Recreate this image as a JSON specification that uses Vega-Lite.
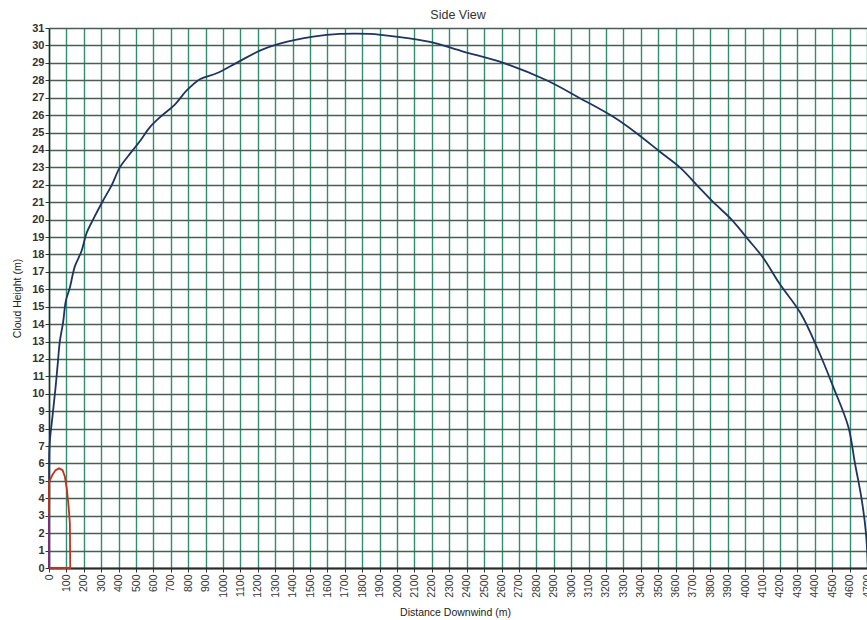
{
  "$schema": "https://vega.github.io/schema/vega-lite/v6.json",
  "autosize": {"type": "none"},
  "padding": {"left": 49, "top": 28, "right": 0, "bottom": 52},
  "width": 818,
  "height": 540,
  "background": "white",
  "title": {"text": "Side View", "offset": 1, "fontSize": 12.5, "font": "Liberation Sans", "fontWeight": "normal", "color": "#333333", "anchor": "middle"},
  "config": {"view": {"stroke": null}},
  "data": {"values": [
    {"series": "blue", "i": 0, "x": 0, "y": 0},
    {"series": "blue", "i": 1, "x": 1, "y": 4},
    {"series": "blue", "i": 2, "x": 3, "y": 7},
    {"series": "blue", "i": 3, "x": 20, "y": 8.7},
    {"series": "blue", "i": 4, "x": 38, "y": 10.4},
    {"series": "blue", "i": 5, "x": 50, "y": 11.7},
    {"series": "blue", "i": 6, "x": 62, "y": 13},
    {"series": "blue", "i": 7, "x": 81, "y": 14.1},
    {"series": "blue", "i": 8, "x": 97, "y": 15.35},
    {"series": "blue", "i": 9, "x": 120, "y": 16.1},
    {"series": "blue", "i": 10, "x": 148, "y": 17.3},
    {"series": "blue", "i": 11, "x": 187, "y": 18.2},
    {"series": "blue", "i": 12, "x": 215, "y": 19.2},
    {"series": "blue", "i": 13, "x": 253, "y": 20},
    {"series": "blue", "i": 14, "x": 311, "y": 21.1},
    {"series": "blue", "i": 15, "x": 359, "y": 21.95},
    {"series": "blue", "i": 16, "x": 407, "y": 23},
    {"series": "blue", "i": 17, "x": 455, "y": 23.65},
    {"series": "blue", "i": 18, "x": 522, "y": 24.5},
    {"series": "blue", "i": 19, "x": 579, "y": 25.3},
    {"series": "blue", "i": 20, "x": 646, "y": 25.95},
    {"series": "blue", "i": 21, "x": 723, "y": 26.6},
    {"series": "blue", "i": 22, "x": 790, "y": 27.4},
    {"series": "blue", "i": 23, "x": 867, "y": 28.06},
    {"series": "blue", "i": 24, "x": 963, "y": 28.4},
    {"series": "blue", "i": 25, "x": 1078, "y": 29.0},
    {"series": "blue", "i": 26, "x": 1211, "y": 29.7},
    {"series": "blue", "i": 27, "x": 1326, "y": 30.1},
    {"series": "blue", "i": 28, "x": 1518, "y": 30.5},
    {"series": "blue", "i": 29, "x": 1671, "y": 30.66},
    {"series": "blue", "i": 30, "x": 1844, "y": 30.66},
    {"series": "blue", "i": 31, "x": 1997, "y": 30.5},
    {"series": "blue", "i": 32, "x": 2189, "y": 30.2},
    {"series": "blue", "i": 33, "x": 2380, "y": 29.65},
    {"series": "blue", "i": 34, "x": 2610, "y": 29.0},
    {"series": "blue", "i": 35, "x": 2859, "y": 28.0},
    {"series": "blue", "i": 36, "x": 3051, "y": 26.97},
    {"series": "blue", "i": 37, "x": 3242, "y": 25.9},
    {"series": "blue", "i": 38, "x": 3376, "y": 24.96},
    {"series": "blue", "i": 39, "x": 3510, "y": 23.9},
    {"series": "blue", "i": 40, "x": 3625, "y": 23.0},
    {"series": "blue", "i": 41, "x": 3721, "y": 22.0},
    {"series": "blue", "i": 42, "x": 3817, "y": 21.0},
    {"series": "blue", "i": 43, "x": 3922, "y": 20.0},
    {"series": "blue", "i": 44, "x": 4018, "y": 18.85},
    {"series": "blue", "i": 45, "x": 4104, "y": 17.8},
    {"series": "blue", "i": 46, "x": 4199, "y": 16.3},
    {"series": "blue", "i": 47, "x": 4317, "y": 14.65},
    {"series": "blue", "i": 48, "x": 4420, "y": 12.5},
    {"series": "blue", "i": 49, "x": 4506, "y": 10.4},
    {"series": "blue", "i": 50, "x": 4593, "y": 8.1},
    {"series": "blue", "i": 51, "x": 4631, "y": 6.0},
    {"series": "blue", "i": 52, "x": 4670, "y": 3.9},
    {"series": "blue", "i": 53, "x": 4694, "y": 2.0},
    {"series": "blue", "i": 54, "x": 4705, "y": 0},
    {"series": "red", "i": 0, "x": 0, "y": 0},
    {"series": "red", "i": 1, "x": 0, "y": 3},
    {"series": "red", "i": 2, "x": 0, "y": 4.9},
    {"series": "red", "i": 3, "x": 8, "y": 5.1},
    {"series": "red", "i": 4, "x": 20, "y": 5.35},
    {"series": "red", "i": 5, "x": 38, "y": 5.62},
    {"series": "red", "i": 6, "x": 58, "y": 5.72},
    {"series": "red", "i": 7, "x": 78, "y": 5.62},
    {"series": "red", "i": 8, "x": 91, "y": 5.25},
    {"series": "red", "i": 9, "x": 103, "y": 4.5},
    {"series": "red", "i": 10, "x": 113, "y": 3.5},
    {"series": "red", "i": 11, "x": 120, "y": 2.55},
    {"series": "red", "i": 12, "x": 122, "y": 0},
    {"series": "red", "i": 13, "x": 0, "y": 0},
    {"series": "purple", "i": 0, "x": 0, "y": 0},
    {"series": "purple", "i": 1, "x": 0, "y": 3.1}
  ]},
  "encoding": {
    "x": {
      "field": "x", "type": "quantitative",
      "scale": {"domain": [0, 4700], "nice": false},
      "axis": {
        "title": "Distance Downwind (m)",
        "format": "d",
        "values": [0,100,200,300,400,500,600,700,800,900,1000,1100,1200,1300,1400,1500,1600,1700,1800,1900,2000,2100,2200,2300,2400,2500,2600,2700,2800,2900,3000,3100,3200,3300,3400,3500,3600,3700,3800,3900,4000,4100,4200,4300,4400,4500,4600,4700],
        "labelAngle": -90,
        "labelFont": "Liberation Sans",
        "labelFontSize": 10.5,
        "labelColor": "#333333",
        "labelPadding": 2,
        "labelOverlap": false,
        "labelFlush": false,
        "tickSize": 4,
        "tickColor": "#333333",
        "tickWidth": 1,
        "domainColor": "#2a2a2a",
        "domainWidth": 2,
        "grid": true,
        "gridColor": "#2e8f70",
        "gridWidth": 1.4,
        "titleFont": "Liberation Sans",
        "titleFontSize": 10.5,
        "titleFontWeight": "normal",
        "titleColor": "#222222",
        "titleX": 406,
        "titleY": 44,
        "titleBaseline": "middle",
        "titleAlign": "center"
      }
    },
    "y": {
      "field": "y", "type": "quantitative",
      "scale": {"domain": [0, 31], "nice": false},
      "axis": {
        "title": "Cloud Height (m)",
        "format": "d",
        "values": [0,1,2,3,4,5,6,7,8,9,10,11,12,13,14,15,16,17,18,19,20,21,22,23,24,25,26,27,28,29,30,31],
        "labelFont": "Liberation Sans",
        "labelFontSize": 11,
        "labelFontWeight": "bold",
        "labelColor": "#333333",
        "labelPadding": 1,
        "labelOverlap": false,
        "labelFlush": false,
        "tickSize": 4,
        "tickColor": "#333333",
        "domainColor": "#2a2a2a",
        "domainWidth": 1.5,
        "grid": true,
        "gridColor": "#4a5e54",
        "gridWidth": 1.5,
        "titleFont": "Liberation Sans",
        "titleFontSize": 10.5,
        "titleFontWeight": "normal",
        "titleColor": "#222222",
        "titleAngle": -90,
        "titleX": -32,
        "titleY": 270,
        "titleBaseline": "middle",
        "titleAlign": "center"
      }
    },
    "color": {
      "field": "series", "type": "nominal",
      "scale": {"domain": ["blue", "red", "purple"], "range": ["#1d355f", "#c4301c", "#7b2d86"]},
      "legend": null
    },
    "order": {"field": "i", "type": "quantitative"}
  },
  "layer": [
    {
      "transform": [{"filter": "datum.series === 'blue'"}],
      "mark": {"type": "line", "strokeWidth": 1.8, "clip": false, "interpolate": "catmull-rom"}
    },
    {
      "transform": [{"filter": "datum.series !== 'blue'"}],
      "mark": {"type": "line", "strokeWidth": 1.8, "clip": false}
    }
  ]
}
